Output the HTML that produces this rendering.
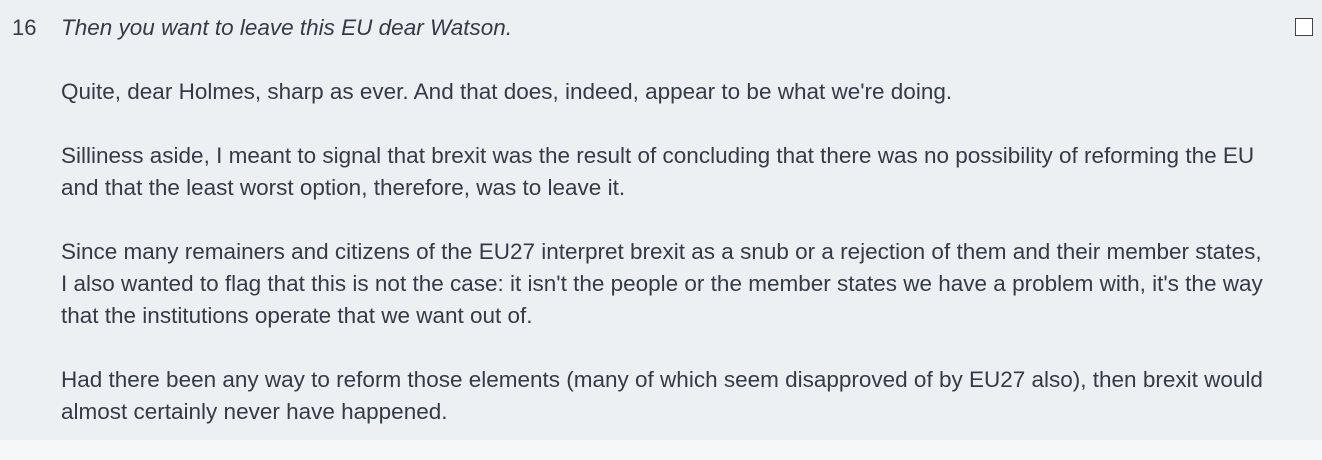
<!DOCTYPE html>
<html><head><meta charset="utf-8"><style>
body{margin:0;width:1322px;height:445px;background:#f5f7f8;overflow:hidden;font-family:"Liberation Sans",Arial,sans-serif;color:#343b46}
.box{position:absolute;left:0;top:0;width:1322px;height:440px;background:#edf0f2}
.num{position:absolute;left:12px;top:12px;font-size:22px;line-height:32px}
.txt{position:absolute;left:61px;top:12px;width:1240px;font-size:22.5px;line-height:32px;white-space:nowrap}
.txt p{margin:0 0 32px 0}
.q{font-style:italic}
.cb{position:absolute;left:1295px;top:18px;width:16px;height:16px;border:1.5px solid #444;background:#fff}
</style></head><body>
<div class="box">
<div class="num">16</div>
<div class="txt">
<p class="q">Then you want to leave this EU dear Watson.</p>
<p>Quite, dear Holmes, sharp as ever. And that does, indeed, appear to be what we're doing.</p>
<p>Silliness aside, I meant to signal that brexit was the result of concluding that there was no possibility of reforming the EU<br>and that the least worst option, therefore, was to leave it.</p>
<p>Since many remainers and citizens of the EU27 interpret brexit as a snub or a rejection of them and their member states,<br>I also wanted to flag that this is not the case: it isn't the people or the member states we have a problem with, it's the way<br>that the institutions operate that we want out of.</p>
<p>Had there been any way to reform those elements (many of which seem disapproved of by EU27 also), then brexit would<br>almost certainly never have happened.</p>
</div>
<div class="cb"></div>
</div>
</body></html>
